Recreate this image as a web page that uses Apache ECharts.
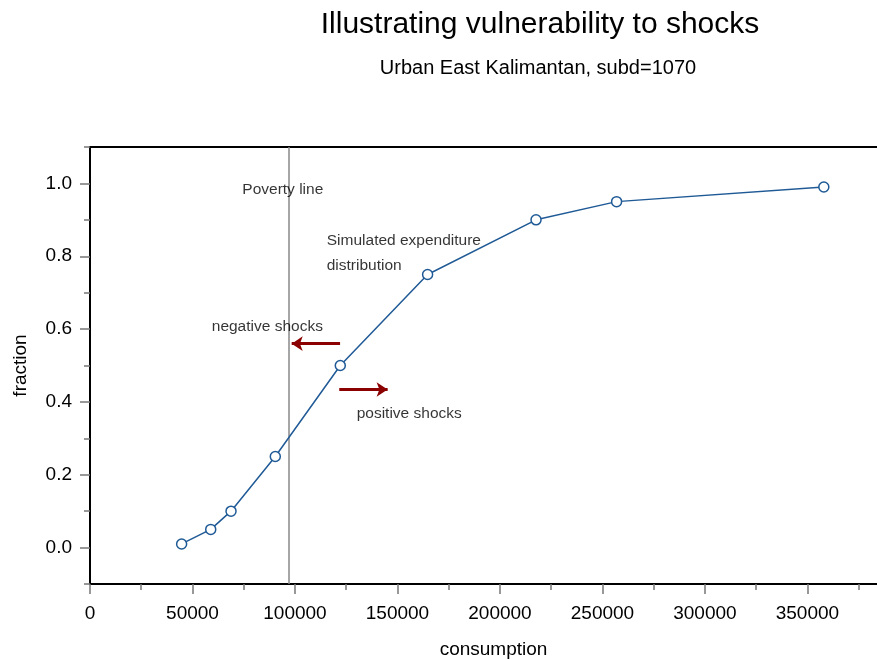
<!DOCTYPE html>
<html>
<head>
<meta charset="utf-8">
<script src="https://cdn.jsdelivr.net/npm/echarts@6/dist/echarts.min.js"></script>
<style>html,body{margin:0;padding:0;background:#fff;overflow:hidden}#chart{width:877px;height:659px}</style>
</head>
<body>
<div id="chart"></div>
<script>
// ---- data ----
const consumption = [44700, 58900, 68800, 90400, 122100, 164700, 217600, 256900, 358000];
const fraction = [0.01, 0.05, 0.10, 0.25, 0.50, 0.75, 0.90, 0.95, 0.99];
const povertyLine = 97200;
const yMajorTicks = [0, 0.2, 0.4, 0.6, 0.8, 1.0];
const yMinorTicks = [-0.1, 0.1, 0.3, 0.5, 0.7, 0.9, 1.1];
const xTickStep = 50000;
const negativeArrow = [[122000, 0.56], [98400, 0.56]];
const positiveArrow = [[121600, 0.434], [145200, 0.434]];
const annotationTexts = ['Poverty line', 'Simulated expenditure', 'distribution', 'negative shocks', 'positive shocks'];
const annotationX = [74300, 115500, 115500, 59400, 130100];
const annotationY = [0.982, 0.842, 0.773, 0.607, 0.367];

const FONT = '"Liberation Sans", Arial, sans-serif';
const BLUE = '#1f5a96';

const chart = echarts.init(document.getElementById('chart'), null, {renderer: 'canvas'});
chart.setOption({
  backgroundColor: '#fff',
  animation: false,
  title: [
    {text: 'Illustrating vulnerability to shocks', left: 535, top: 5, textAlign: 'center',
     textStyle: {fontFamily: FONT, fontSize: 30, fontWeight: 'normal', color: '#000'}},
    {text: 'Urban East Kalimantan, subd=1070', left: 533, top: 53, textAlign: 'center',
     textStyle: {fontFamily: FONT, fontSize: 20, fontWeight: 'normal', color: '#000'}}
  ],
  grid: {left: 90, top: 147, width: 807, bottom: 75, show: true, borderColor: '#000', borderWidth: 2,
    containLabel: false, outerBoundsMode: 'none'},
  xAxis: {
    type: 'value', min: 0, max: 393700, interval: xTickStep,
    name: 'consumption', nameLocation: 'middle', nameGap: 56,
    nameTextStyle: {fontFamily: FONT, fontSize: 19, color: '#000'},
    axisLine: {show: true, onZero: false, lineStyle: {color: '#000', width: 2}},
    axisTick: {show: true, length: 10, lineStyle: {color: '#777', width: 1.5}},
    minorTick: {show: true, splitNumber: 2, length: 6, lineStyle: {color: '#777', width: 1.5}},
    axisLabel: {fontFamily: FONT, fontSize: 19, color: '#000', margin: 20, showMaxLabel: false,
      formatter: v => String(v)},
    splitLine: {show: false}
  },
  yAxis: [
    {
      type: 'value', min: -0.1, max: 1.1,
      name: 'fraction', nameLocation: 'middle', nameGap: 60, nameRotate: 90,
      nameTextStyle: {fontFamily: FONT, fontSize: 19, color: '#000'},
      axisLine: {show: true, onZero: false, lineStyle: {color: '#000', width: 2}},
      axisTick: {show: true, length: 10, customValues: yMajorTicks, lineStyle: {color: '#777', width: 1.5}},
      axisLabel: {fontFamily: FONT, fontSize: 19, color: '#000', margin: 18, customValues: yMajorTicks,
        formatter: v => Number(v).toFixed(1)},
      splitLine: {show: false}
    },
    {
      type: 'value', min: -0.1, max: 1.1, position: 'left',
      axisLine: {show: false},
      axisTick: {show: true, length: 6, customValues: yMinorTicks, lineStyle: {color: '#777', width: 1.5}},
      axisLabel: {show: false},
      splitLine: {show: false}
    }
  ],
  series: [
    {
      type: 'line',
      data: consumption.map((c, i) => [c, fraction[i]]),
      symbol: 'circle', symbolSize: 10, showAllSymbol: true,
      lineStyle: {color: BLUE, width: 1.5},
      itemStyle: {color: '#fff', borderColor: BLUE, borderWidth: 1.5},
      z: 5,
      markLine: {
        silent: true, symbol: 'none', animation: false,
        label: {show: false},
        lineStyle: {color: '#888', width: 1.5, type: 'solid'},
        data: [{xAxis: povertyLine}]
      }
    },
    {
      type: 'lines', coordinateSystem: 'cartesian2d',
      symbol: ['none', 'arrow'], symbolSize: 11,
      lineStyle: {color: '#8b0000', width: 3, opacity: 1},
      data: [{coords: negativeArrow}, {coords: positiveArrow}],
      z: 4
    },
    {
      type: 'scatter', symbolSize: 0,
      data: annotationTexts.map((t, i) => ({value: [annotationX[i], annotationY[i]], name: t})),
      label: {show: true, position: 'right', distance: 0, formatter: p => p.name,
        fontFamily: FONT, fontSize: 15.5, color: '#000'},
      silent: true, z: 6
    }
  ]
});
</script>
</body>
</html>
